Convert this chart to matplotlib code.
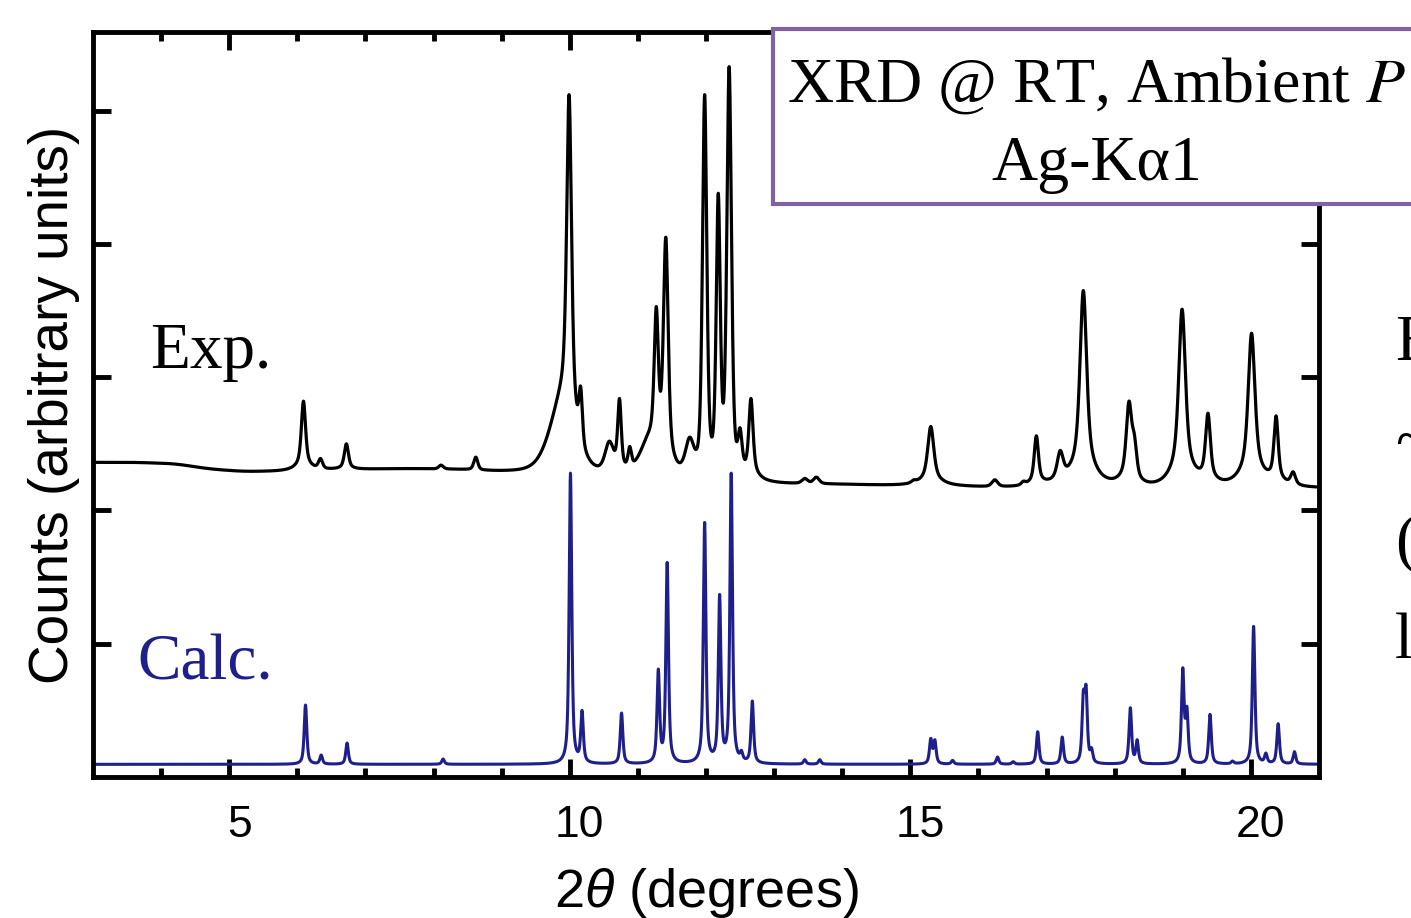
import numpy as np
import matplotlib
matplotlib.use("Agg")
import matplotlib.pyplot as plt
from matplotlib.patches import Rectangle
from matplotlib.transforms import ScaledTranslation

plt.rcParams['mathtext.fontset'] = 'custom'
plt.rcParams['mathtext.rm'] = 'Liberation Sans'
plt.rcParams['mathtext.it'] = 'Liberation Sans:italic'

# ---------------- data ----------------
# Experimental pattern: peak positions (2theta, deg), apparent peak tops,
# core FWHM and fraction of broad tail
exp_pos = [6.09, 6.34, 6.72, 8.11, 8.62, 9.38,
           9.86, 9.99, 10.16, 10.58, 10.73, 10.88, 11.15, 11.27, 11.41, 11.76,
           11.98, 12.18, 12.34, 12.50, 12.66, 13.45, 13.62,
           15.05, 15.30, 15.61, 16.24, 16.66, 16.85, 17.20, 17.54, 18.21,
           18.29, 18.99, 19.37, 20.01, 20.17, 20.37, 20.62]
exp_top = [2.82, 2.39, 2.50, 2.34, 2.40, 2.32,
           2.95, 5.12, 2.93, 2.52, 2.84, 2.48, 2.58, 3.53, 4.05, 2.55,
           5.12, 4.38, 5.33, 2.62, 2.84, 2.24, 2.25,
           2.23, 2.63, 2.20, 2.23, 2.22, 2.56, 2.45, 3.65, 2.82,
           2.57, 3.51, 2.73, 3.33, 2.33, 2.71, 2.29]
exp_fwhm = [0.07, 0.07, 0.07, 0.08, 0.07, 0.10,
            0.42, 0.08, 0.06, 0.15, 0.06, 0.06, 0.32, 0.07, 0.08, 0.15,
            0.075, 0.07, 0.08, 0.07, 0.07, 0.10, 0.10,
            0.08, 0.10, 0.08, 0.10, 0.07, 0.07, 0.10, 0.11, 0.09,
            0.08, 0.11, 0.08, 0.11, 0.06, 0.07, 0.08]
exp_tail = [0.15, 0.0, 0.1, 0.0, 0.0, 0.0,
            0.0, 0.15, 0.0, 0.0, 0.1, 0.0, 0.0, 0.1, 0.1, 0.0,
            0.0, 0.0, 0.0, 0.0, 0.15, 0.0, 0.0,
            0.0, 0.2, 0.0, 0.0, 0.0, 0.15, 0.15, 0.2, 0.2,
            0.0, 0.2, 0.15, 0.2, 0.0, 0.15, 0.1]
# Experimental background level (2theta, counts)
exp_bg_x = [3.0, 3.6, 4.2, 4.7, 5.2, 5.7, 6.5, 7.5, 8.4, 9.2, 10.5, 11.6,
            12.9, 14.0, 14.8, 15.8, 16.5, 18.6, 19.7, 21.0]
exp_bg_y = [2.36, 2.36, 2.35, 2.31, 2.29, 2.29, 2.30, 2.31, 2.30, 2.27, 2.22,
            2.19, 2.19, 2.19, 2.18, 2.17, 2.16, 2.13, 2.14, 2.16]

# Calculated pattern: peak positions, apparent tops
calc_pos = [6.12, 6.35, 6.73, 8.14, 10.01, 10.18, 10.76, 11.30, 11.43, 11.98,
            12.20, 12.37, 12.52, 12.68, 13.45, 13.67, 15.30, 15.36, 15.62,
            16.28, 16.51, 16.87, 17.23, 17.54, 17.58, 17.66, 18.23, 18.33,
            19.00, 19.06, 19.40, 19.73, 20.04, 20.22, 20.40, 20.64]
calc_top = [0.54, 0.165, 0.255, 0.135, 2.28, 0.50, 0.48, 0.81, 1.61, 1.91,
            1.37, 2.28, 0.20, 0.57, 0.13, 0.13, 0.29, 0.28, 0.125,
            0.15, 0.115, 0.34, 0.30, 0.65, 0.69, 0.22, 0.52, 0.28,
            0.82, 0.53, 0.47, 0.12, 1.13, 0.18, 0.40, 0.19]
calc_fwhm_val = 0.045
calc_base = 0.095

xticks_major = [5, 10, 15, 20]
xtick_labels = ["5", "10", "15", "20"]
yticks = [1, 2, 3, 4, 5]


def lor(d, w):
    return 1.0 / (1.0 + (2.0 * d / w) ** 2)


def gau(d, w):
    return np.exp(-4.0 * np.log(2.0) * (d / w) ** 2)


def shape(d, w, t, eta):
    core = eta * lor(d, w) + (1.0 - eta) * gau(d, w)
    return (1.0 - t) * core + t * lor(d, 3.0 * w)


def build(x, pos, top, fwhm, tail, eta, bg_at):
    pos = np.asarray(pos, float)
    top = np.asarray(top, float)
    fwhm = np.asarray(fwhm, float)[None, :]
    tail = np.asarray(tail, float)[None, :]
    K = shape(pos[:, None] - pos[None, :], fwhm, tail, eta)
    target = top - bg_at(pos)
    amp = target.copy()
    for _ in range(300):
        others = K @ amp - amp
        amp = np.clip(target - others, 0, None)
    prof = shape(x[:, None] - pos[None, :], fwhm, tail, eta)
    return bg_at(x) + (amp[None, :] * prof).sum(axis=1)


def exp_bg(t):
    xs = np.linspace(2.0, 22.0, 4001)
    b = np.interp(xs, exp_bg_x, exp_bg_y)
    k = np.ones(81) / 81.0
    bs = np.convolve(np.pad(b, 40, mode="edge"), k, mode="valid")
    return np.interp(t, xs, bs)


x = np.linspace(3.0, 21.0, 9001)
y_exp = build(x, exp_pos, exp_top, exp_fwhm, exp_tail, 0.5, exp_bg)
y_calc = build(x, calc_pos, calc_top, [calc_fwhm_val] * len(calc_pos),
               [0.0] * len(calc_pos), 0.7,
               lambda t: np.full_like(np.asarray(t, float), calc_base))

# ---------------- figure ----------------
W, H = 1411, 918
fig = plt.figure(figsize=(W / 100, H / 100), dpi=100)
ax = fig.add_axes([93 / W, (H - 777) / H, 1226 / W, 745 / H])

navy = "#1f1f8c"
ax.plot(x, y_exp, color="black", lw=2.3)
ax.plot(x, y_calc, color=navy, lw=2.2)

ax.set_xlim(3, 21)
ax.set_ylim(0, 5.59)

for s in ax.spines.values():
    s.set_linewidth(3.5)

ax.set_xticks(xticks_major)
ax.set_xticks(np.arange(4, 21, 1), minor=True)
ax.set_xticklabels(xtick_labels, fontfamily="Liberation Sans", fontsize=32)
ax.set_yticks(yticks)
ax.set_yticklabels([])
ax.tick_params(axis="both", which="major", direction="in", length=13, width=3.5,
               top=True, right=True, pad=20)
ax.tick_params(axis="x", which="minor", direction="in", length=6.5, width=3.5,
               top=True)
ax.tick_params(axis="y", which="minor", left=False, right=False)

off = ScaledTranslation(10 / 100, 0, fig.dpi_scale_trans)
for lab in ax.get_xticklabels():
    lab.set_transform(lab.get_transform() + off)

ax.set_xlabel(r"2$\theta$ (degrees)", fontfamily="Liberation Sans", fontsize=39)
ax.xaxis.set_label_coords(0.5, -(866 - 777) / 745)
ax.set_ylabel("Counts (arbitrary units)", fontfamily="Liberation Sans", fontsize=39.5)
ax.yaxis.set_label_coords(-(93 - 80) / 1226, 0.5)

ax.text(3.84, 3.07, "Exp.", fontfamily="Liberation Serif", fontsize=47,
        color="black", va="baseline", ha="left")
ax.text(3.65, 0.73, "Calc.", fontfamily="Liberation Serif", fontsize=47,
        color=navy, va="baseline", ha="left")

# annotation box (partly outside the figure on the right)
box = Rectangle((773 / W, (H - 204) / H), (1421 - 773) / W, (204 - 29) / H,
                transform=fig.transFigure, facecolor="white", edgecolor="#8064a2",
                lw=3.0, zorder=5)
fig.add_artist(box)
fig.text(1097 / W, (H - 102) / H, "XRD @ RT, Ambient $P$", fontfamily="Liberation Serif",
         fontsize=46, ha="center", va="baseline", zorder=6, math_fontfamily="stix")
fig.text(1097 / W, (H - 180) / H, "Ag-K\u03b11", fontfamily="Liberation Serif",
         fontsize=46, ha="center", va="baseline", zorder=6)

# text fragments cut off at the right edge (as in the reference)
for ch, yb in zip(["E", "~", "(", "l"], [360, 460, 560, 658]):
    fig.text(1395 / W, (H - yb) / H, ch, fontfamily="Liberation Serif",
             fontsize=47, ha="left", va="baseline")

fig.savefig("out.png", dpi=100)
